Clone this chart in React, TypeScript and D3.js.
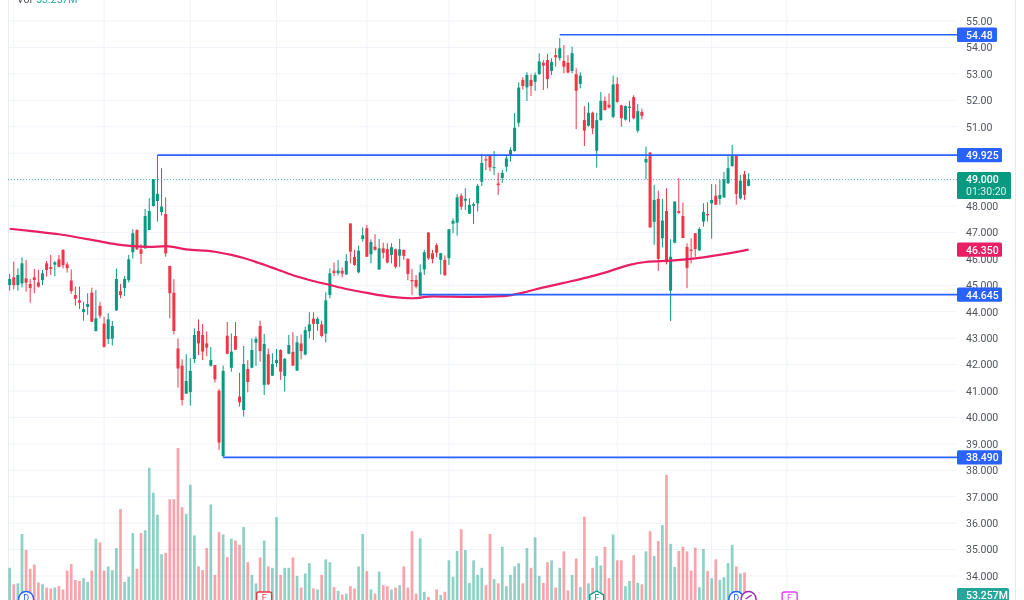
import React, { useRef, useEffect } from 'react';
import * as d3 from 'd3';

const opens = [
  45.01,45.30,45.01,45.07,45.26,45.05,45.30,45.11,45.20,45.83,
  45.69,45.78,45.98,46.34,45.79,45.18,44.63,44.43,43.99,44.18,
  44.72,43.27,44.22,43.55,42.97,42.98,44.05,44.78,44.90,45.19,
  46.25,47.09,46.36,46.40,47.09,48.00,48.19,47.77,47.70,45.73,
  44.72,42.61,41.96,40.90,40.96,42.21,43.27,43.12,42.80,41.96,
  41.98,41.01,38.54,43.09,41.88,43.08,40.79,40.28,41.83,41.88,
  42.83,43.46,41.23,42.39,41.58,42.06,42.55,41.57,42.41,42.48,
  41.77,42.80,42.38,43.26,43.74,43.54,43.52,43.17,44.63,45.55,
  45.46,45.55,45.41,47.34,46.07,45.49,46.75,47.16,46.17,46.46,
  45.60,46.40,46.37,46.15,46.36,46.12,46.34,46.00,45.20,45.20,
  44.61,45.60,47.00,46.21,46.52,45.96,45.96,46.03,47.33,47.37,
  48.39,48.20,47.71,48.01,48.10,48.92,49.77,49.89,49.44,48.85,
  49.06,49.49,49.92,50.08,51.15,52.77,52.49,52.77,52.70,52.99,
  53.42,53.52,53.11,53.71,53.59,53.49,53.42,53.11,52.99,52.62,
  51.25,51.04,51.53,50.09,51.25,51.98,51.83,51.37,52.62,51.81,
  51.27,51.71,52.12,50.85,51.56,49.65,50.02,47.40,48.27,46.78,
  47.81,44.80,46.61,47.81,47.62,46.45,46.35,46.97,46.32,47.41,
  47.70,48.10,48.39,48.27,48.33,48.86,49.51,49.89,48.29,49.20,
  48.76,
];

const highs = [
  45.43,45.89,45.64,46.06,45.96,45.24,45.62,45.58,45.58,45.92,
  46.15,45.92,46.15,46.36,45.88,45.60,44.95,44.95,44.38,44.70,
  44.91,44.82,44.36,43.81,43.94,43.65,45.63,45.05,45.35,46.15,
  47.12,47.12,46.56,47.89,48.29,49.02,49.93,49.43,48.33,45.74,
  45.23,42.99,42.20,42.39,42.24,43.37,43.71,43.54,43.25,42.67,
  41.98,41.08,41.96,43.61,43.18,43.61,41.69,42.70,42.17,42.99,
  43.06,43.66,43.16,42.61,42.43,42.59,42.58,42.24,43.12,43.23,
  43.08,43.14,43.43,43.98,43.98,43.79,43.66,44.73,45.64,45.86,
  45.96,45.67,46.18,47.34,46.34,46.50,47.19,47.28,46.74,46.93,
  46.75,46.61,46.59,46.59,46.39,46.76,46.35,46.02,45.62,45.39,
  45.79,46.34,47.00,46.34,46.59,46.23,46.13,47.13,47.53,48.45,
  48.48,48.67,48.29,48.14,48.83,49.97,49.89,49.92,50.08,49.26,
  49.36,49.89,50.22,51.51,52.68,52.87,53.06,52.98,53.05,53.78,
  53.52,53.75,53.59,53.97,54.35,54.09,53.71,54.03,53.21,53.06,
  51.78,51.92,51.57,51.53,52.31,52.14,52.26,52.93,52.87,51.83,
  51.81,51.98,52.19,51.86,51.68,50.25,50.04,48.80,48.58,48.27,
  48.67,46.74,48.17,49.05,48.13,46.59,46.78,46.97,47.19,48.10,
  48.14,48.83,48.82,48.98,49.29,49.89,50.31,49.90,49.17,49.33,
  49.24,
];

const lows = [
  44.80,44.85,44.80,44.92,44.76,44.34,44.70,44.92,45.01,45.33,
  45.39,45.35,45.68,45.64,45.48,44.68,44.23,44.10,43.66,43.88,
  43.61,43.25,43.75,42.65,42.78,42.72,44.03,44.51,44.59,45.11,
  46.02,46.34,45.81,46.38,47.09,47.98,47.41,47.64,46.08,43.75,
  43.14,41.13,40.45,40.89,40.45,42.05,42.36,42.17,42.32,41.92,
  41.32,38.77,38.49,42.39,41.73,42.55,40.41,40.03,40.95,41.86,
  41.95,42.11,40.85,41.23,41.57,41.92,41.42,40.98,42.39,41.96,
  41.76,42.20,42.35,42.99,42.93,43.28,43.03,42.84,44.51,45.35,
  45.38,45.30,45.39,45.83,45.74,45.45,46.65,46.08,45.83,46.31,
  45.58,46.02,45.83,45.83,45.64,45.70,45.96,45.19,44.63,44.88,
  44.57,45.39,45.96,45.83,46.06,45.41,45.36,45.77,46.97,46.88,
  47.85,47.85,47.70,47.32,47.79,48.76,49.36,49.31,49.17,48.42,
  48.88,49.30,49.68,50.06,51.00,52.41,51.97,52.16,52.36,52.96,
  52.39,52.45,52.96,53.27,53.50,53.02,53.02,53.02,50.91,52.45,
  50.27,51.00,50.72,49.45,51.23,51.61,51.69,51.32,51.91,51.00,
  51.23,51.17,51.28,50.77,51.28,49.01,47.18,46.53,45.55,46.44,
  45.79,43.65,46.59,47.70,46.78,44.89,45.83,46.08,46.30,47.22,
  47.41,46.77,48.03,48.05,48.30,48.83,49.49,48.05,48.25,48.23,
  48.75,
];

const closes = [
  45.24,45.01,45.39,45.83,45.10,44.90,45.20,44.95,45.45,45.58,
  45.62,45.87,45.70,45.76,45.65,44.78,44.49,44.34,44.10,44.29,
  43.62,43.75,43.85,42.67,43.71,43.46,45.24,44.63,45.24,45.98,
  46.97,46.36,46.19,47.62,47.81,49.01,48.46,47.98,46.21,44.70,
  43.27,41.85,40.66,41.38,41.76,43.12,42.80,42.49,42.64,42.17,
  41.44,39.05,41.76,42.41,42.49,42.56,40.57,42.02,41.34,42.55,
  42.97,42.51,42.78,41.25,42.02,42.17,41.73,42.22,42.74,41.96,
  42.84,42.51,43.30,43.52,43.54,43.73,43.08,44.43,45.45,45.46,
  45.56,45.44,45.92,46.27,45.77,46.31,46.89,46.08,46.64,46.34,
  46.40,46.23,45.86,46.44,45.70,46.36,46.11,45.43,45.15,44.95,
  45.49,46.25,46.02,45.99,46.23,46.21,45.38,47.12,47.44,48.33,
  47.97,48.27,48.04,48.07,48.76,49.63,49.72,49.46,49.47,48.79,
  49.25,49.80,50.12,50.96,52.48,52.54,52.96,52.54,52.96,53.47,
  53.31,52.80,53.45,53.63,53.97,53.27,53.05,53.78,52.36,52.93,
  50.85,51.53,50.94,51.25,51.98,51.63,51.73,52.60,51.94,51.32,
  51.78,51.76,51.32,51.59,51.41,49.78,47.19,48.23,46.00,47.45,
  45.87,46.08,48.17,47.74,46.79,45.66,46.30,46.37,47.13,47.77,
  47.65,48.23,48.05,48.42,49.01,49.43,49.89,48.46,48.96,48.42,
  49.00,
];

// volume in millions
const volumes = [
  111,76,78,183,149,109,118,80,76,69,
  67,69,72,65,105,119,85,83,89,81,
  105,173,165,105,114,106,153,236,81,92,
  185,109,185,191,324,271,224,140,143,257,
  257,366,240,226,288,180,114,106,153,246,
  96,187,182,134,173,169,160,198,123,96,
  78,133,169,114,111,219,96,111,111,133,
  94,69,99,121,67,65,96,129,123,70,
  62,54,56,72,67,114,183,104,65,56,
  103,74,72,65,69,74,114,69,189,56,
  174,60,49,25,65,53,60,127,92,147,
  193,149,79,127,96,111,74,183,87,78,
  156,72,96,114,121,78,153,111,176,94,
  79,123,127,69,111,146,63,96,131,70,
  220,78,111,136,116,156,89,182,127,127,
  72,83,138,79,76,146,189,136,168,202,
  309,162,113,147,156,146,105,154,70,151,
  104,89,129,85,91,121,160,114,99,101,
  53.257,
];

const maBars = [0,6,12,17,22,26,30,34,38,43,50,54,57,61,65,69,73,78,82,87,93,98,103,112,120,125,128,135,141,145,151,155,161,167,174,180];
const maValues = [47.14,47.04,46.93,46.80,46.66,46.55,46.48,46.45,46.48,46.36,46.27,46.15,46.03,45.83,45.61,45.38,45.20,45.01,44.86,44.71,44.56,44.51,44.58,44.56,44.59,44.72,44.84,45.09,45.31,45.48,45.77,45.88,45.93,46.02,46.18,46.35];

const priceTicks = [55,54,53,52,51,48,47,46,45,44,43,42,41,40,39,38,37,36,35,34];
const gridPrices = [55,54,53,52,51,50,49,48,47,46,45,44,43,42,41,40,39,38,37,36,35,34];
const gridBars = [1,23,44,65,87,107,128,148,171,189.3];

const levelPrices = [54.48,49.925,44.645,38.49];
const levelLabels = ['54.48','49.925','44.645','38.490'];
const levelStartBars = [134,36,100,52];
const levelTagWidths = [40,45,45,45];

const lastPrice = 49;
const maLast = 46.35;

const FONT = 'Roboto, sans-serif';
const UP = '#089981';
const DOWN = '#F23645';
const BLUE = '#2962FF';
const GRID = '#f0f3fa';

const App: React.FC = () => {
  const svgRef = useRef<SVGSVGElement | null>(null);

  useEffect(() => {
    const svg = d3.select(svgRef.current);
    svg.selectAll('*').remove();

    const x = d3.scaleLinear().domain([0, 180]).range([9.67, 748.6]);
    const y = d3.scaleLinear().domain([34, 55]).range([576, 21]);
    const yVol = d3.scaleLinear().domain([0, 366]).range([620, 448]);
    const plotRight = 957;
    const isUp = (i: number) => closes[i] >= opens[i];
    const bars = d3.range(closes.length);

    // grid
    const grid = svg.append('g').attr('stroke', GRID).attr('stroke-width', 1);
    grid.selectAll('.h').data(gridPrices).enter().append('line')
      .attr('x1', 8).attr('x2', plotRight)
      .attr('y1', d => y(d)).attr('y2', d => y(d));
    grid.selectAll('.v').data(gridBars).enter().append('line')
      .attr('x1', d => x(d)).attr('x2', d => x(d))
      .attr('y1', 0).attr('y2', 600);
    svg.append('line').attr('x1', 8.5).attr('x2', 8.5).attr('y1', 0).attr('y2', 600)
      .attr('stroke', '#e9ecf2');
    svg.append('line').attr('x1', 1015.5).attr('x2', 1015.5).attr('y1', 0).attr('y2', 600)
      .attr('stroke', '#e6e9f5');

    // volume
    svg.append('g').selectAll('rect').data(bars).enter().append('rect')
      .attr('x', i => x(i) - 1.35)
      .attr('width', 2.7)
      .attr('y', i => yVol(volumes[i]))
      .attr('height', i => yVol(0) - yVol(volumes[i]))
      .attr('fill', i => (isUp(i) ? UP : DOWN))
      .attr('fill-opacity', 0.45);

    // last price line
    svg.append('line')
      .attr('x1', 8).attr('x2', plotRight)
      .attr('y1', y(lastPrice)).attr('y2', y(lastPrice))
      .attr('stroke', UP).attr('stroke-width', 1)
      .attr('stroke-dasharray', '1 2').attr('stroke-opacity', 0.65);

    // candles
    const candles = svg.append('g');
    candles.selectAll('.wick').data(bars).enter().append('line')
      .attr('x1', i => x(i)).attr('x2', i => x(i))
      .attr('y1', i => y(highs[i])).attr('y2', i => y(lows[i]))
      .attr('stroke', i => (isUp(i) ? UP : DOWN))
      .attr('stroke-width', 1);
    candles.selectAll('.body').data(bars).enter().append('rect')
      .attr('x', i => x(i) - 1.5)
      .attr('width', 3)
      .attr('y', i => y(Math.max(opens[i], closes[i])))
      .attr('height', i => Math.max(1, Math.abs(y(opens[i]) - y(closes[i]))))
      .attr('fill', i => (isUp(i) ? UP : DOWN));

    // moving average
    const maLine = d3.line<number>()
      .x(d => x(d))
      .y((_, i) => y(maValues[i]))
      .curve(d3.curveMonotoneX);
    svg.append('path')
      .attr('d', maLine(maBars))
      .attr('fill', 'none')
      .attr('stroke', '#E91E63')
      .attr('stroke-width', 2.2);

    // horizontal levels
    svg.append('g').selectAll('line').data(levelPrices).enter().append('line')
      .attr('x1', (_, i) => x(levelStartBars[i])).attr('x2', plotRight)
      .attr('y1', d => y(d)).attr('y2', d => y(d))
      .attr('stroke', BLUE).attr('stroke-width', 1.6);

    // price axis
    const axis = d3.axisRight(y)
      .tickValues(priceTicks)
      .tickSize(0)
      .tickPadding(0)
      .tickFormat(d => ((d as number) > 50 ? d3.format('.2f')(d as number) : d3.format('.3f')(d as number)));
    const axisG = svg.append('g').attr('transform', 'translate(966,0)').call(axis);
    axisG.select('.domain').remove();
    axisG.selectAll('text')
      .attr('fill', '#50535e')
      .style('font-family', FONT)
      .style('font-size', '10.5px');

    const tag = (price: number, label: string, w: number, fill: string) => {
      svg.append('rect')
        .attr('x', plotRight).attr('width', w)
        .attr('y', y(price) - 7.2).attr('height', 14.4)
        .attr('rx', 1.5).attr('fill', fill);
      svg.append('text')
        .attr('x', 966).attr('y', y(price) + 3.9)
        .attr('fill', '#fff')
        .style('font-family', FONT).style('font-size', '10.5px').style('font-weight', 500)
        .text(label);
    };

    levelPrices.forEach((p, i) => tag(p, levelLabels[i], levelTagWidths[i], BLUE));
    tag(maLast, '46.350', 45, '#E91E63');

    // current price tag with countdown
    svg.append('rect')
      .attr('x', plotRight).attr('width', 54)
      .attr('y', y(lastPrice) - 7.6).attr('height', 27)
      .attr('rx', 1.5).attr('fill', UP);
    svg.append('text')
      .attr('x', 966).attr('y', y(lastPrice) + 3.9).attr('fill', '#fff')
      .style('font-family', FONT).style('font-size', '10.5px').style('font-weight', 500)
      .text('49.000');
    svg.append('text')
      .attr('x', 966).attr('y', y(lastPrice) + 15.6).attr('fill', '#fff').attr('fill-opacity', 0.85)
      .style('font-family', FONT).style('font-size', '10.5px')
      .text('01:30:20');

    // volume tag, cut off by the bottom edge
    svg.append('rect')
      .attr('x', plotRight).attr('width', 52)
      .attr('y', yVol(53.257) - 7).attr('height', 14.4)
      .attr('rx', 1.5).attr('fill', '#26a69a');
    svg.append('text')
      .attr('x', 966).attr('y', yVol(53.257) + 3.9).attr('fill', '#fff')
      .style('font-family', FONT).style('font-size', '10.5px').style('font-weight', 500)
      .text('53.257M');

    // legend, mostly above the top edge
    svg.append('text').attr('x', 17).attr('y', 3).attr('fill', '#50535e')
      .style('font-family', FONT).style('font-size', '10.5px').text('Vol');
    svg.append('text').attr('x', 36).attr('y', 3).attr('fill', '#26a69a')
      .style('font-family', FONT).style('font-size', '10.5px').text('53.257M');

    // event markers along the bottom
    const circleMark = (bar: number, color: string, label: string) => {
      svg.append('circle').attr('cx', x(bar)).attr('cy', 599).attr('r', 7.5)
        .attr('fill', '#fff').attr('stroke', color).attr('stroke-width', 1.4);
      svg.append('text').attr('x', x(bar)).attr('y', 601).attr('text-anchor', 'middle')
        .attr('fill', color).style('font-family', FONT).style('font-size', '9px').text(label);
    };
    const squareMark = (bar: number, color: string) => {
      svg.append('rect').attr('x', x(bar) - 7.5).attr('y', 592).attr('width', 15).attr('height', 15)
        .attr('rx', 2).attr('fill', '#fff').attr('stroke', color).attr('stroke-width', 1.4);
      svg.append('text').attr('x', x(bar)).attr('y', 601).attr('text-anchor', 'middle')
        .attr('fill', color).style('font-family', FONT).style('font-size', '9px').text('E');
    };
    circleMark(4, BLUE, 'D');
    squareMark(62, DOWN);
    svg.append('path')
      .attr('transform', `translate(${x(143)},599)`)
      .attr('d', d3.line()(d3.range(6).map(k => {
        const a = (k * Math.PI) / 3 - Math.PI / 2;
        return [8 * Math.cos(a), 8 * Math.sin(a)] as [number, number];
      })) + 'Z')
      .attr('fill', '#fff').attr('stroke', UP).attr('stroke-width', 1.4);
    svg.append('text').attr('x', x(143)).attr('y', 601).attr('text-anchor', 'middle')
      .attr('fill', UP).style('font-family', FONT).style('font-size', '9px').text('E');
    circleMark(177, BLUE, 'D');
    circleMark(180, '#9C27B0', '');
    svg.append('line')
      .attr('x1', x(180) - 3).attr('x2', x(180) + 3).attr('y1', 599).attr('y2', 595)
      .attr('stroke', '#9C27B0').attr('stroke-width', 1.4);
    squareMark(190, '#E040FB');
  }, []);

  return (
    <svg
      ref={svgRef}
      width={1024}
      height={600}
      style={{ position: 'absolute', left: 0, top: 0, background: '#fff', filter: 'blur(0.3px)' }}
    />
  );
};

export default App;
